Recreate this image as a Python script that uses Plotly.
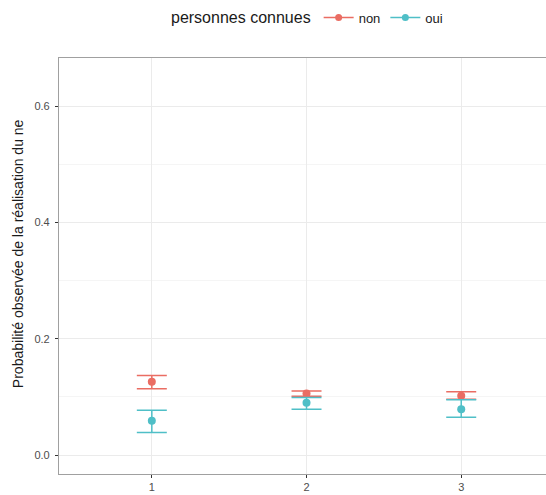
import plotly.graph_objects as go

groups = [1, 2, 3]
tick_labels = ["1", "2", "3"]
series_names = ["non", "oui"]
non_mean = [0.126, 0.106, 0.102]
non_low = [0.114, 0.101, 0.096]
non_high = [0.137, 0.110, 0.109]
oui_mean = [0.059, 0.090, 0.079]
oui_low = [0.039, 0.079, 0.065]
oui_high = [0.077, 0.099, 0.095]

colors = {"non": "#EA6D63", "oui": "#4FBFC7"}
font_family = "Liberation Sans, Arial, sans-serif"

fig = go.Figure()
data = {"non": (non_mean, non_low, non_high), "oui": (oui_mean, oui_low, oui_high)}
for name in series_names:
    m, lo, hi = data[name]
    fig.add_trace(go.Scatter(
        x=groups, y=m, mode="markers", showlegend=False,
        marker=dict(color=colors[name], size=8),
        error_y=dict(type="data", symmetric=False,
                     array=[h - v for h, v in zip(hi, m)],
                     arrayminus=[v - l for v, l in zip(m, lo)],
                     color=colors[name], thickness=1.5, width=15),
    ))
for name in series_names:
    fig.add_trace(go.Scatter(
        x=[None], y=[None], mode="lines+markers", name=name,
        line=dict(color=colors[name], width=1.5),
        marker=dict(color=colors[name], size=7),
    ))

fig.update_layout(
    width=546, height=495,
    margin=dict(l=59, r=0, t=58, b=21),
    paper_bgcolor="white", plot_bgcolor="white",
    font=dict(family=font_family, color="#1a1a1a"),
    showlegend=True,
    legend=dict(
        orientation="h", xref="container", yref="container",
        x=0.565, xanchor="center", y=0.995, yanchor="top",
        title=dict(text="personnes connues", font=dict(size=16, color="#1a1a1a")),
        font=dict(size=13, color="#1a1a1a"),
        itemwidth=30,
    ),
    xaxis=dict(
        range=[0.4, 3.548], tickvals=groups, ticktext=tick_labels,
        showgrid=True, gridcolor="#EBEBEB", gridwidth=1,
        showline=True, linecolor="#A0A0A0", linewidth=1.2, mirror=True,
        ticks="outside", ticklen=3, tickcolor="#333333",
        tickfont=dict(size=11, color="#4d4d4d"), zeroline=False,
    ),
    yaxis=dict(
        range=[-0.0325, 0.6825], tickvals=[0.0, 0.2, 0.4, 0.6],
        ticktext=["0.0", "0.2", "0.4", "0.6"],
        showgrid=True, gridcolor="#EBEBEB", gridwidth=1,
        minor=dict(tickvals=[0.1, 0.3, 0.5], showgrid=True, gridcolor="#F5F5F5", gridwidth=1),
        showline=True, linecolor="#A0A0A0", linewidth=1.2, mirror=True,
        ticks="outside", ticklen=3, tickcolor="#333333",
        tickfont=dict(size=11, color="#4d4d4d"), zeroline=False,
        ticklabelstandoff=3,
    ),
    annotations=[dict(
        text="Probabilité observée de la réalisation du ne",
        xref="paper", yref="paper", x=-0.085, y=0.53,
        xanchor="center", yanchor="middle", textangle=-90,
        showarrow=False, font=dict(size=14, color="#1a1a1a"),
    )],
)

fig.write_html("out.html")
